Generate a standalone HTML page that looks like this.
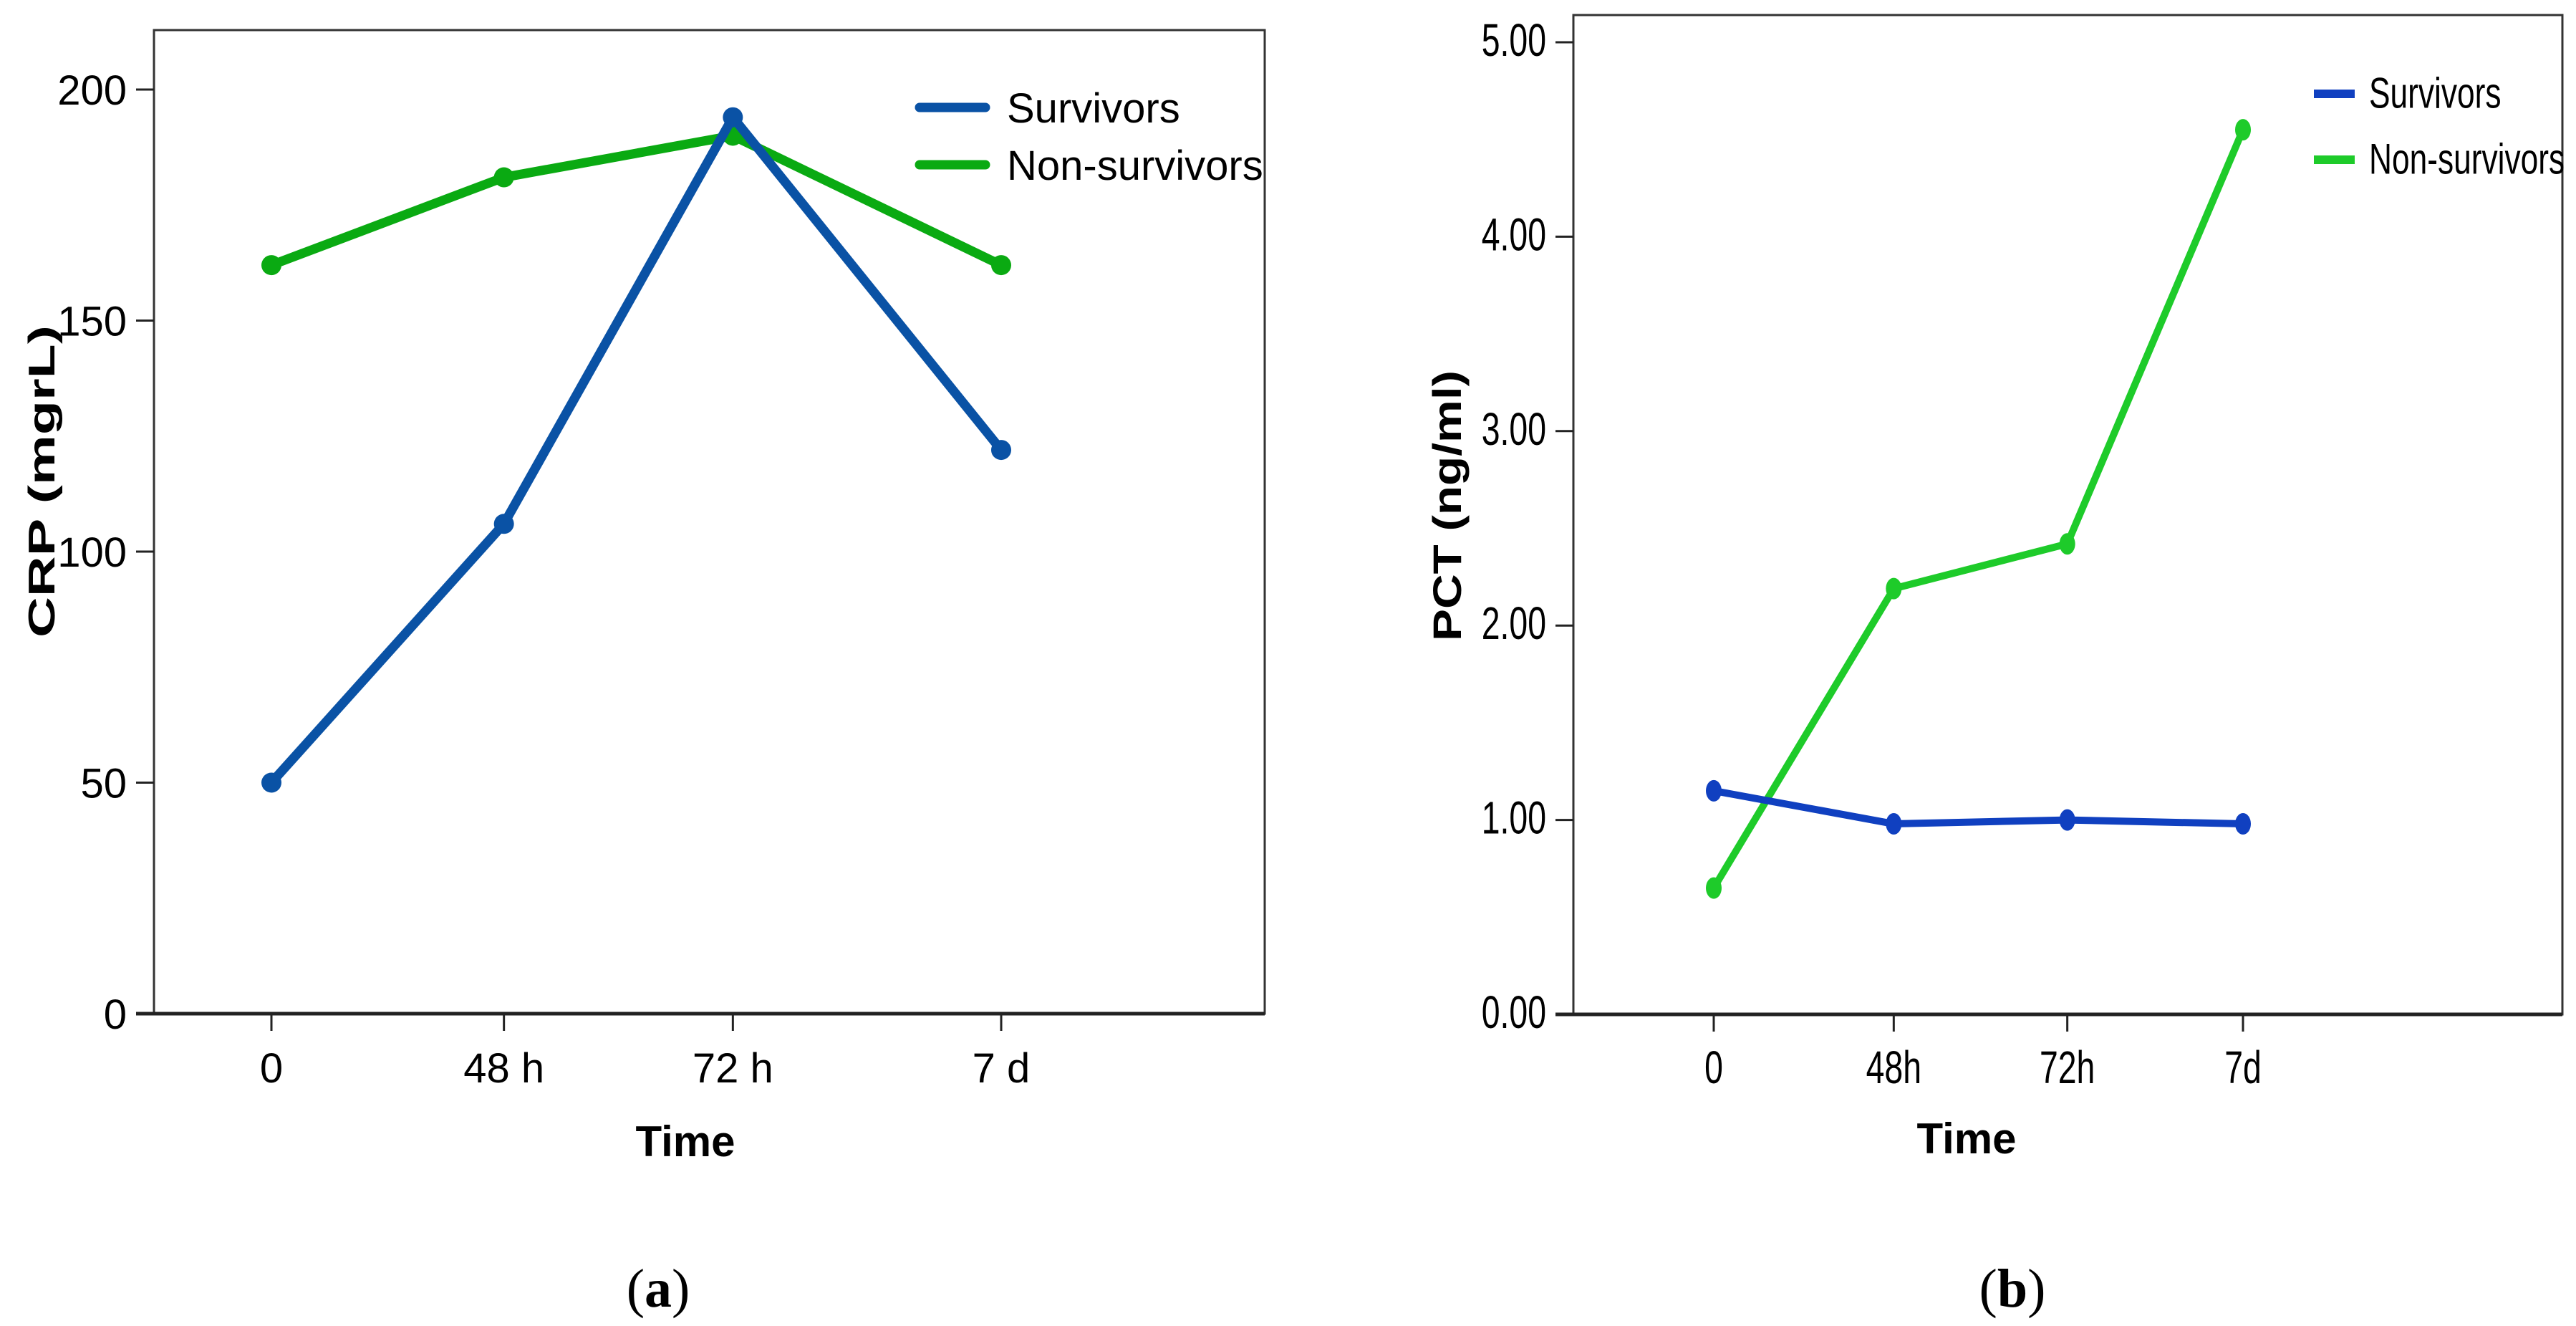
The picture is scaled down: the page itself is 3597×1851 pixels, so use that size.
<!DOCTYPE html>
<html><head><meta charset="utf-8"><style>
html,body{margin:0;padding:0;background:#fff;}
svg{display:block;font-family:"Liberation Sans",sans-serif;}
</style></head><body>
<svg id="fig" width="3597" height="1851" viewBox="0 0 3597 1851">
<g id="chartA"></g>
<g id="chartB"></g>
<text x="919" y="1824" text-anchor="middle" font-family="Liberation Serif,serif" font-size="76">(<tspan font-weight="bold">a</tspan>)</text>
<text x="2810" y="1824" text-anchor="middle" font-family="Liberation Serif,serif" font-size="76">(<tspan font-weight="bold">b</tspan>)</text>
</svg>
<script>
const categoriesA = ["0","48 h","72 h","7 d"];
const survivorsA = [50,106,194,122];
const nonSurvivorsA = [162,181,190,162];
const ticksA = [0,50,100,150,200];
const tickLabelsA = ["0","50","100","150","200"];

const categoriesB = ["0","48h","72h","7d"];
const survivorsB = [1.15,0.98,1.00,0.98];
const nonSurvivorsB = [0.65,2.19,2.42,4.55];
const ticksB = [0,1,2,3,4,5];
const tickLabelsB = ["0.00","1.00","2.00","3.00","4.00","5.00"];

const NS="http://www.w3.org/2000/svg";
function mk(parent,tag,attrs){const e=document.createElementNS(NS,tag);for(const k in attrs)e.setAttribute(k,attrs[k]);parent.appendChild(e);return e;}

function drawChart(g,cfg){
  const yS=v=>cfg.y0+(v-cfg.vmin)/(cfg.vmax-cfg.vmin)*(cfg.y1-cfg.y0);
  const xS=i=>cfg.xs0+i*(cfg.xs1-cfg.xs0)/(cfg.cats.length-1)+ (cfg.xoff?cfg.xoff[i]:0);
  const fr=mk(g,'rect',{x:cfg.L,y:cfg.T,width:cfg.R-cfg.L,height:cfg.B-cfg.T,fill:'none',stroke:'#333','stroke-width':3});
  
  
  const xa=mk(g,'line',{x1:cfg.L-25,x2:cfg.R,y1:cfg.B,y2:cfg.B,stroke:'#222','stroke-width':5});
  
  
  cfg.ticks.forEach((t,i)=>{
    const y=yS(t);
    const tl=mk(g,'line',{x1:cfg.L-25,x2:cfg.L,y1:y,y2:y,stroke:'#222','stroke-width':3});
    
    
    const tx=mk(g,'text',{x:cfg.L-38,y:y+21,'text-anchor':'end','font-size':cfg.fs});
    tx.textContent=cfg.tickLabels[i];
    if(cfg.narrow){tx.setAttribute('transform',`translate(${cfg.L-38},0) scale(0.8,1.1) translate(${-(cfg.L-38)},0)`);tx.setAttribute('y',(y+19)/1.1);}
    
    
  });
  cfg.cats.forEach((c,i)=>{
    const x=xS(i);
    const tl=mk(g,'line',{x1:x,x2:x,y1:cfg.B,y2:cfg.B+24,stroke:'#222','stroke-width':3});
    
    
    const tx=mk(g,'text',{x:x,y:cfg.B+96,'text-anchor':'middle','font-size':cfg.fs});
    tx.textContent=c;
    if(cfg.narrow){tx.setAttribute('transform',`translate(${x},0) scale(0.8,1.1) translate(${-x},0)`);tx.setAttribute('y',(cfg.B+96)/1.1);}
    
    
  });
  const series=[{v:cfg.nonSurv,c:cfg.green,n:'non-survivors'},{v:cfg.surv,c:cfg.blue,n:'survivors'}];
  series.forEach(s=>{
    const pts=s.v.map((v,i)=>xS(i)+','+yS(v)).join(' ');
    const pl=mk(g,'polyline',{points:pts,fill:'none',stroke:s.c,'stroke-width':cfg.lw,'stroke-linejoin':'round'});
    
    
    s.v.forEach((v,i)=>{
      const m=mk(g,'ellipse',{cx:xS(i),cy:yS(v),rx:cfg.mr,ry:cfg.mry,fill:s.c});
      
      
    });
  });
  const yt=mk(g,'text',{x:cfg.ytx,y:cfg.yty,'text-anchor':'middle','font-size':cfg.tfs,'font-weight':'bold',textLength:cfg.tlen,lengthAdjust:'spacingAndGlyphs',transform:`rotate(-90 ${cfg.ytx} ${cfg.yty})`});
  yt.textContent=cfg.ytitle;
  
  
  const xt=mk(g,'text',{x:cfg.xtx,y:cfg.xty,'text-anchor':'middle','font-size':cfg.xtfs,'font-weight':'bold'});
  xt.textContent='Time';
  
  
  [['Survivors',cfg.blue,cfg.lg.y1],['Non-survivors',cfg.green,cfg.lg.y2]].forEach(([t,c,y])=>{
    const l=mk(g,'line',{x1:cfg.lg.x1,x2:cfg.lg.x2,y1:y,y2:y,stroke:c,'stroke-width':cfg.lg.w,'stroke-linecap':cfg.lg.cap});
    
    
    const tx=mk(g,'text',{x:cfg.lg.tx,y:y+cfg.lg.fs*0.36,'font-size':cfg.lg.fs});
    tx.textContent=t;
    if(cfg.narrow){tx.setAttribute('transform',`translate(${cfg.lg.tx},0) scale(0.82,1.12) translate(${-cfg.lg.tx},0)`);tx.setAttribute('y',(y+cfg.lg.fs*0.36)/1.12);}
    
    
  });
}

drawChart(document.getElementById('chartA'),{
  L:215,T:42,R:1766,B:1415,vmin:0,vmax:200,y0:1415,y1:125,
  xs0:379,xs1:1398,xoff:[0,-15,-35,0],cats:categoriesA,surv:survivorsA,nonSurv:nonSurvivorsA,
  ticks:ticksA,tickLabels:tickLabelsA,fs:58,blue:'#0a52a5',green:'#0aaa12',lw:13,mr:14,mry:14,
  ytitle:'CRP (mgrL)',ytx:76,yty:672,tfs:52,tlen:436,xtx:957,xty:1614,xtfs:60,
  lg:{x1:1284,x2:1376,y1:150,y2:230,w:13,cap:'round',tx:1406,fs:58},narrow:false
});
drawChart(document.getElementById('chartB'),{
  L:2197,T:21,R:3578,B:1416,vmin:0,vmax:5,y0:1416,y1:59,
  xs0:2393,xs1:3132,xoff:[0,5,1,0],cats:categoriesB,surv:survivorsB,nonSurv:nonSurvivorsB,
  ticks:ticksB,tickLabels:tickLabelsB,fs:58,blue:'#1040c0',green:'#1ecb2a',lw:10,mr:11,mry:15,
  ytitle:'PCT (ng/ml)',ytx:2040,yty:706,tfs:56,tlen:378,xtx:2746,xty:1610,xtfs:60,
  lg:{x1:3231,x2:3288,y1:131,y2:223,w:12,cap:'butt',tx:3308,fs:54},narrow:true
});
</script>
</body></html>
